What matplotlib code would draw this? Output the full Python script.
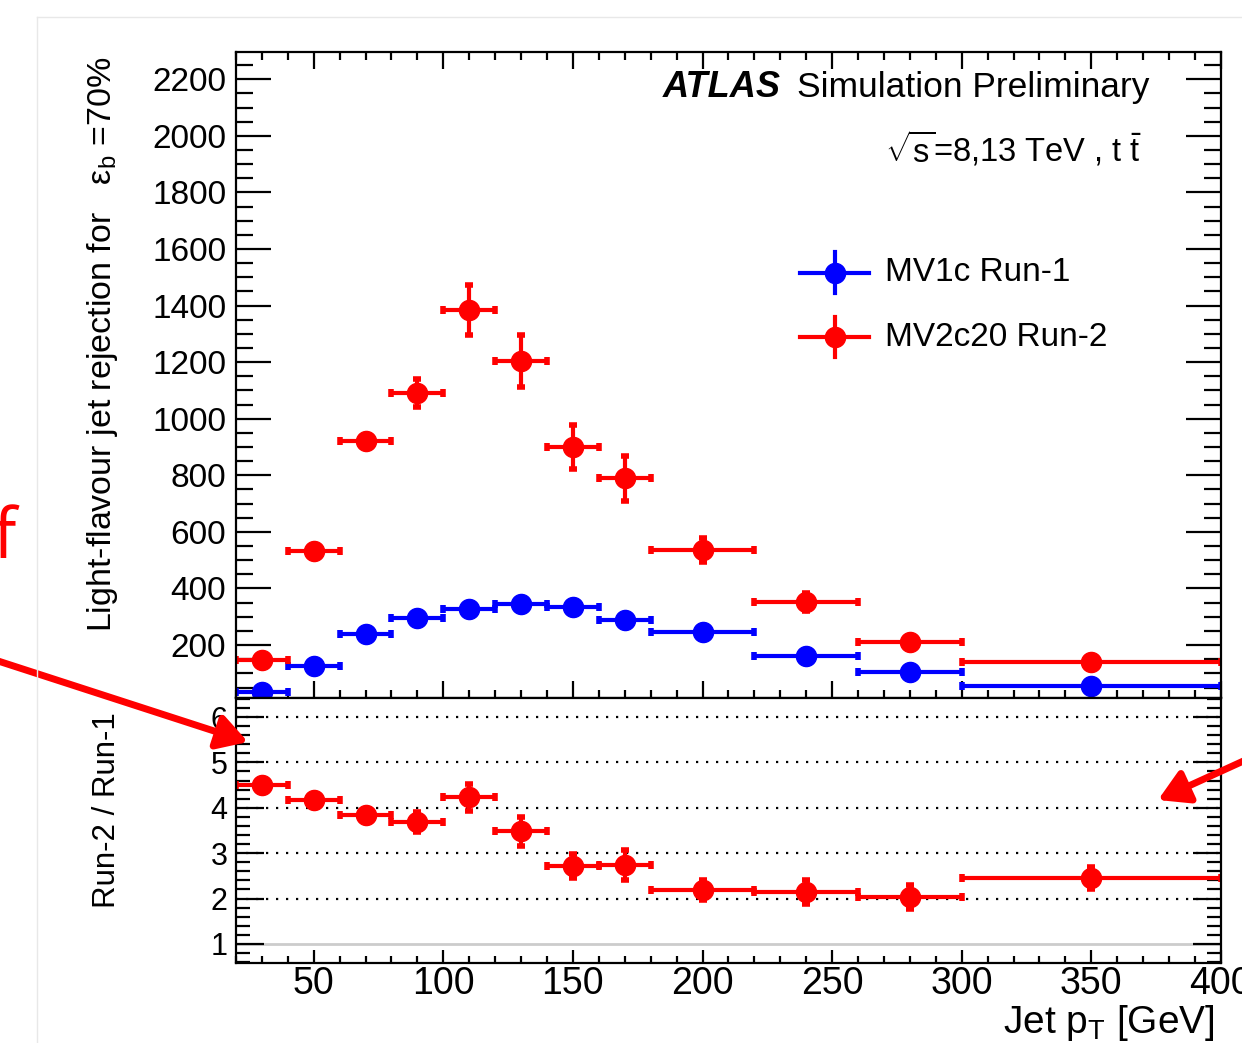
import numpy as np
import matplotlib
matplotlib.use("Agg")
import matplotlib.pyplot as plt
from matplotlib.ticker import MultipleLocator
from matplotlib.lines import Line2D
from matplotlib.patches import FancyArrowPatch

plt.rcParams['font.family'] = ['Liberation Sans', 'DejaVu Sans']
plt.rcParams['mathtext.fontset'] = 'custom'
plt.rcParams['mathtext.rm'] = 'Liberation Sans'
plt.rcParams['mathtext.it'] = 'Liberation Sans:italic'
plt.rcParams['mathtext.bf'] = 'Liberation Sans:bold'

# jet pT bins [GeV]
pt_low = [20, 40, 60, 80, 100, 120, 140, 160, 180, 220, 260, 300]
pt_high = [40, 60, 80, 100, 120, 140, 160, 180, 220, 260, 300, 400]

# light-flavour jet rejection at eps_b = 70%
rej_mv1c = [35, 127, 238, 296, 327, 345, 333, 288, 246, 162, 106, 56]
rej_mv1c_err = [3, 4, 6, 7, 8, 9, 8, 7, 6, 5, 4, 3]
rej_mv2c20 = [147, 532, 921, 1090, 1384, 1203, 900, 790, 536, 352, 212, 140]
rej_mv2c20_err = [10, 12, 18, 50, 88, 92, 78, 80, 42, 33, 15, 14]

# Run-2 / Run-1
ratio = [4.51, 4.18, 3.85, 3.69, 4.23, 3.48, 2.72, 2.74, 2.18, 2.15, 2.03, 2.45]
ratio_err = [0.05, 0.06, 0.08, 0.22, 0.29, 0.32, 0.27, 0.34, 0.22, 0.26, 0.27, 0.25]

ratio_grid = [2, 3, 4, 5, 6]

BLUE = '#0000ff'
RED = '#ff0000'

pt_low = np.array(pt_low)
pt_high = np.array(pt_high)
pt = 0.5 * (pt_low + pt_high)
pt_err = 0.5 * (pt_high - pt_low)

W, H = 1242, 1043
fig = plt.figure(figsize=(W / 100, H / 100), dpi=100)

def px(x, y):
    return (x / W, 1 - y / H)

# slide frame behind the plot
fig.add_artist(Line2D([37 / W, 37 / W], [0, 1 - 17 / H], color='#e8e8e8', lw=1))
fig.add_artist(Line2D([37 / W, 1], [1 - 17 / H, 1 - 17 / H], color='#e8e8e8', lw=1))

ax = fig.add_axes([0.190, 0.3308, 0.793, 0.619])
axr = fig.add_axes([0.190, 0.0767, 0.793, 0.2541], sharex=ax)

style = dict(fmt='o', ms=14.5, elinewidth=3, capsize=3, capthick=4)
ax.errorbar(pt, rej_mv1c, xerr=pt_err, yerr=rej_mv1c_err, color=BLUE, **style)
ax.errorbar(pt, rej_mv2c20, xerr=pt_err, yerr=rej_mv2c20_err, color=RED, **style)
axr.errorbar(pt, ratio, xerr=pt_err, yerr=ratio_err, color=RED, **style)

for g in ratio_grid:
    axr.axhline(g, color='black', lw=1.6, ls=(0, (1, 3.5)), zorder=0)
axr.axhline(1, color='#cccccc', lw=2, zorder=0)

ax.set_xlim(20, 400)
ax.set_ylim(13, 2295)
axr.set_ylim(0.58, 6.42)

for a in (ax, axr):
    for s in a.spines.values():
        s.set_linewidth(1.6)
    a.xaxis.set_major_locator(MultipleLocator(50))
    a.xaxis.set_minor_locator(MultipleLocator(10))

ax.yaxis.set_major_locator(MultipleLocator(200))
ax.yaxis.set_minor_locator(MultipleLocator(50))
axr.yaxis.set_major_locator(MultipleLocator(1))
axr.yaxis.set_minor_locator(MultipleLocator(0.2))

ax.tick_params(which='both', direction='in', top=True, right=True, width=1.6)
ax.tick_params(axis='y', which='major', length=25.5, labelsize=24, pad=7)
ax.tick_params(axis='y', which='minor', length=12.5)
ax.tick_params(axis='x', which='major', length=12, labelbottom=False)
ax.tick_params(axis='x', which='minor', length=5.5)

axr.tick_params(which='both', direction='in', top=False, right=True, width=1.6)
axr.tick_params(axis='y', which='major', length=20, labelsize=22, pad=6)
axr.tick_params(axis='y', which='minor', length=10)
axr.tick_params(axis='x', which='major', length=9.5, labelsize=27, pad=2)
axr.tick_params(axis='x', which='minor', length=5)

ax.set_ylabel('Light-flavour jet rejection for   $\\mathregular{\\varepsilon_{b}}$ =70%',
              fontsize=24.5, loc='top')
ax.yaxis.set_label_coords(-0.118, 0.994)
axr.set_ylabel('Run-2 / Run-1', fontsize=22.5, loc='top')
axr.yaxis.set_label_coords(-0.116, 0.947)
axr.set_xlabel('Jet p$_{\\mathregular{T}}$ [GeV]', fontsize=28, loc='right')
axr.xaxis.set_label_coords(0.994, -0.15)

# ATLAS label and legend
ax.text(0.4335, 0.946, 'ATLAS', transform=ax.transAxes, fontsize=26,
        fontweight='bold', fontstyle='italic', va='center')
ax.text(0.5695, 0.946, 'Simulation Preliminary', transform=ax.transAxes,
        fontsize=25.5, va='center')
ax.text(0.659, 0.851, '$\\mathregular{\\sqrt{s}}$=8,13 TeV , t $\\mathregular{\\bar{t}}$',
        transform=ax.transAxes, fontsize=23.5, va='center')

entries = [('MV1c Run-1', BLUE, 0.659), ('MV2c20 Run-2', RED, 0.559)]
for label, colour, yl in entries:
    xc = 0.608
    ax.add_line(Line2D([xc - 0.035, xc + 0.035], [yl, yl], color=colour, lw=3,
                       transform=ax.transAxes))
    ax.add_line(Line2D([xc, xc], [yl - 0.031, yl + 0.031], color=colour, lw=3,
                       transform=ax.transAxes))
    ax.add_line(Line2D([xc], [yl], color=colour, marker='o', ms=14.5,
                       transform=ax.transAxes))
    ax.text(0.659, yl, label, transform=ax.transAxes, fontsize=24, va='center')

# annotations on the slide
fig.text(*px(16, 540), 'f', color=RED, fontsize=50, ha='right', va='center',
         family=['Open Sans', 'DejaVu Sans'])
for start, end in [((-5, 660), (248, 742)), ((1250, 758), (1158, 800))]:
    fig.add_artist(FancyArrowPatch(px(*start), px(*end), transform=fig.transFigure,
                                   arrowstyle='-|>,head_length=0.6,head_width=0.35',
                                   mutation_scale=30, lw=5, color=RED,
                                   shrinkA=0, shrinkB=0))

fig.savefig('out.png', dpi=100)
